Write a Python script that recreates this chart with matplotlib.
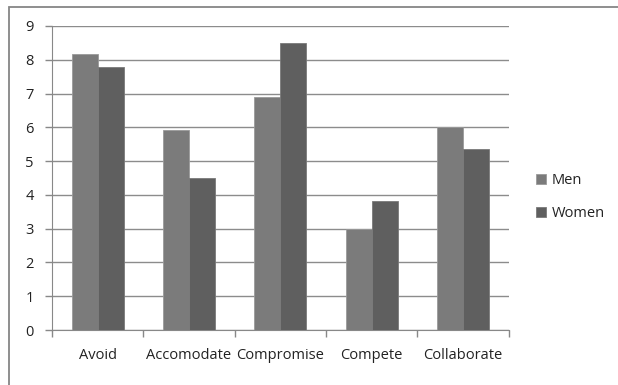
import matplotlib
matplotlib.use("Agg")
import matplotlib.pyplot as plt
import numpy as np
from matplotlib.patches import Rectangle

categories = ["Avoid", "Accomodate", "Compromise", "Compete", "Collaborate"]
men = [8.17, 5.92, 6.9, 3.0, 6.0]
women = [7.8, 4.5, 8.5, 3.83, 5.35]
y_ticks = [0, 1, 2, 3, 4, 5, 6, 7, 8, 9]

plt.rcParams["font.family"] = ["Open Sans", "DejaVu Sans"]

W, H = 618, 385
fig = plt.figure(figsize=(W / 100, H / 100), dpi=100)
fig.patch.set_facecolor("white")

# outer chart frame
fig.patches.append(Rectangle((9 / W, -0.1), 1.2, 1 - 7 / H + 0.1,
                             transform=fig.transFigure, fill=False,
                             edgecolor="#868686", linewidth=1.3))

ax = fig.add_axes([52 / W, 1 - 330 / H, (508.7 - 52) / W, (330 - 26) / H])
x = np.arange(len(categories))
bw = 1 / 3.5
ax.bar(x - bw / 2, men, bw, color="#7b7b7b", edgecolor="#9a9a9a", linewidth=0.6,
       label="Men", zorder=3)
ax.bar(x + bw / 2, women, bw, color="#5f5f5f", edgecolor="#7a7a7a", linewidth=0.6,
       label="Women", zorder=3)

ax.set_xlim(-0.5, len(categories) - 0.5)
ax.set_ylim(0, 9)
ax.set_yticks(y_ticks)
ax.set_yticklabels([str(v) for v in y_ticks], fontsize=10.5, color="#222222")
ax.set_xticks(x)
ax.set_xticklabels(categories, fontsize=10.5, color="#222222")
ax.tick_params(axis="x", length=0, pad=13)
ax.set_xticks(np.arange(len(categories) + 1) - 0.5, minor=True)
ax.tick_params(axis="x", which="minor", length=5, color="#888888", width=1)
ax.tick_params(axis="y", length=5, color="#888888", width=1, pad=8)

ax.grid(axis="y", color="#8c8c8c", linewidth=1, zorder=0)
for side in ["top", "right"]:
    ax.spines[side].set_visible(False)
ax.spines["left"].set_color("#888888")
ax.spines["bottom"].set_color("#888888")

leg = fig.legend(loc="center left", bbox_to_anchor=(523 / W, 1 - 197 / H),
                 frameon=False, fontsize=10.5, handlelength=0.7, handleheight=0.7,
                 handletextpad=0.35, labelspacing=1.2)
for t in leg.get_texts():
    t.set_color("#222222")

fig.savefig("out.png", dpi=100, facecolor="white")
